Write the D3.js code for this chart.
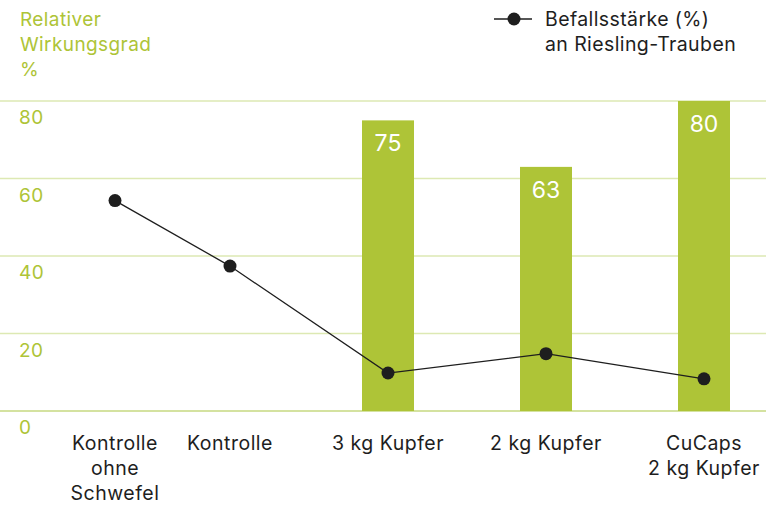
<!DOCTYPE html>
<html>
<head>
<meta charset="utf-8">
<script src="https://cdn.jsdelivr.net/npm/d3@7"></script>
<style>
  body { margin: 0; background: #fff; }
  text { font-family: Inter, "Noto Sans", sans-serif; }
</style>
</head>
<body>
<div class="chart"></div>
<script>
// data
var categories = ["Kontrolle|ohne|Schwefel", "Kontrolle", "3 kg Kupfer", "2 kg Kupfer", "CuCaps|2 kg Kupfer"];
var barValues = [null, null, 75, 63, 80];       // Relativer Wirkungsgrad %
var lineValues = [54.3, 37.4, 9.8, 14.8, 8.3];  // Befallsstärke (%)
var yTicks = [0, 20, 40, 60, 80];
var titleLines = ["Relativer", "Wirkungsgrad", "%"];
var legendLines = ["Befallsstärke (%)", "an Riesling-Trauben"];

var svgWidth = 766;
var svgHeight = 511;
var green = "#aec437";
var gridGreen = "#dde9b3";
var dark = "#1e1e1e";

var svg = d3.select(".chart")
  .append("svg")
  .attr("width", svgWidth)
  .attr("height", svgHeight);

var y = d3.scaleLinear().domain([0, 80]).range([411, 101]);
var x = d3.scalePoint().domain(categories).range([72, 704]);
// first category is pushed right so its label clears the y labels
var firstShift = 43;
var cx = function (d, i) { return x(categories[i]) + (i === 0 ? firstShift : 0); };
var barWidth = 52;

// grid
svg.append("g")
  .selectAll("line")
  .data(yTicks)
  .enter()
  .append("line")
  .attr("x1", 0)
  .attr("x2", svgWidth)
  .attr("y1", d => y(d))
  .attr("y2", d => y(d))
  .attr("stroke", d => d === 0 ? "#c6d981" : gridGreen)
  .attr("stroke-width", 1.5);

svg.append("g")
  .selectAll("text")
  .data(yTicks)
  .enter()
  .append("text")
  .attr("x", 19)
  .attr("y", d => y(d) + 23)
  .attr("fill", green)
  .attr("font-size", 19)
  .attr("letter-spacing", 0.4)
  .text(d => d);

// title
svg.append("text")
  .attr("fill", green)
  .attr("font-size", 19)
  .attr("letter-spacing", 0.4)
  .selectAll("tspan")
  .data(titleLines)
  .enter()
  .append("tspan")
  .attr("x", 20)
  .attr("y", (d, i) => 26 + i * 25)
  .text(d => d);

// bars
var barData = categories.map((c, i) => ({ c: c, v: barValues[i], i: i })).filter(d => d.v != null);
svg.append("g")
  .selectAll("rect")
  .data(barData)
  .enter()
  .append("rect")
  .attr("x", d => cx(d, d.i) - barWidth / 2)
  .attr("y", d => y(d.v))
  .attr("width", barWidth)
  .attr("height", d => y(0) - y(d.v))
  .attr("fill", green);

svg.append("g")
  .selectAll("text")
  .data(barData)
  .enter()
  .append("text")
  .attr("x", d => cx(d, d.i))
  .attr("y", d => y(d.v) + 31)
  .attr("text-anchor", "middle")
  .attr("fill", "#fff")
  .attr("font-size", 23)
  .text(d => d.v);

// line
var line = d3.line()
  .x((d, i) => cx(d, i))
  .y(d => y(d));

svg.append("path")
  .datum(lineValues)
  .attr("d", line)
  .attr("fill", "none")
  .attr("stroke", dark)
  .attr("stroke-width", 1.3);

svg.append("g")
  .selectAll("circle")
  .data(lineValues)
  .enter()
  .append("circle")
  .attr("cx", (d, i) => cx(d, i))
  .attr("cy", d => y(d))
  .attr("r", 6.5)
  .attr("fill", dark);

// x labels
var xLabels = svg.append("g")
  .selectAll("text")
  .data(categories)
  .enter()
  .append("text")
  .attr("text-anchor", "middle")
  .attr("fill", dark)
  .attr("font-size", 19.5)
  .attr("letter-spacing", 0.5);

xLabels.each(function (d, i) {
  d3.select(this).selectAll("tspan")
    .data(d.split("|"))
    .enter()
    .append("tspan")
    .attr("x", cx(d, i))
    .attr("y", (t, j) => 450 + j * 25)
    .text(t => t);
});

// legend
svg.append("line")
  .attr("x1", 494).attr("x2", 532)
  .attr("y1", 19).attr("y2", 19)
  .attr("stroke", dark)
  .attr("stroke-width", 1.3);
svg.append("circle")
  .attr("cx", 514).attr("cy", 19)
  .attr("r", 6.5)
  .attr("fill", dark);
svg.append("text")
  .attr("fill", dark)
  .attr("font-size", 19.5)
  .attr("letter-spacing", 0.4)
  .selectAll("tspan")
  .data(legendLines)
  .enter()
  .append("tspan")
  .attr("x", 545)
  .attr("y", (d, i) => 26 + i * 25)
  .text(d => d);
</script>
</body>
</html>
